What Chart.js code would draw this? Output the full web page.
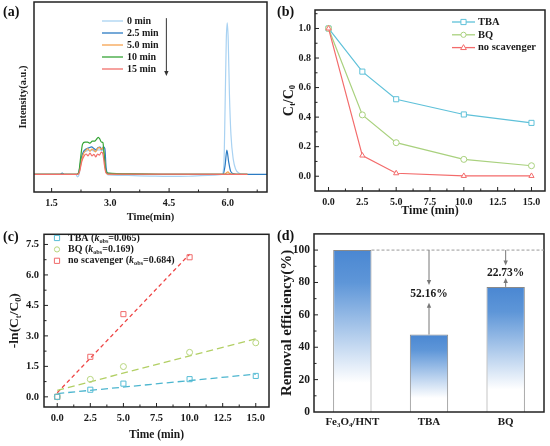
<!DOCTYPE html>
<html>
<head>
<meta charset="utf-8">
<script src="https://cdn.jsdelivr.net/npm/chart.js@4.4.1/dist/chart.umd.min.js"></script>
<style>
  body { margin: 0; background: #fff; overflow: hidden; }
  #wrap { position: relative; width: 550px; height: 446px; }
  canvas { position: absolute; }
  .lbl { position: absolute; font: bold 14px "Liberation Serif", "Times New Roman", serif; color: #111; }
</style>
</head>
<body>
<div id="wrap">
  <canvas id="chartA" width="275" height="223" style="left:0;top:0"></canvas>
  <canvas id="chartB" width="275" height="223" style="left:275px;top:0"></canvas>
  <canvas id="chartC" width="275" height="223" style="left:0;top:223px"></canvas>
  <canvas id="chartD" width="275" height="223" style="left:275px;top:223px"></canvas>
  <div class="lbl" style="left:3px;top:4px">(a)</div>
  <div class="lbl" style="left:277px;top:4px">(b)</div>
  <div class="lbl" style="left:3px;top:229px">(c)</div>
  <div class="lbl" style="left:277px;top:228px">(d)</div>
</div>
<script>
// (a) chromatograms, [time(min), intensity(a.u.)]
const ticksA = [1.5, 3.0, 4.5, 6.0];
const namesA = ['0 min', '2.5 min', '5.0 min', '10 min', '15 min'];
const trace0 = [[1.0,0.093],[1.72,0.093],[1.77,0.096],[1.82,0.093],[2.12,0.092],[2.16,0.08],[2.2,0.09],[2.25,0.16],[2.3,0.2],[2.38,0.215],[2.5,0.22],[2.6,0.215],[2.7,0.222],[2.8,0.22],[2.85,0.2],[2.89,0.11],[2.95,0.09],[3.2,0.088],[3.6,0.086],[4.0,0.084],[4.5,0.082],[5.0,0.083],[5.5,0.087],[5.85,0.092],[5.9,0.15],[5.93,0.45],[5.96,0.8],[5.985,0.89],[6.01,0.8],[6.04,0.52],[6.08,0.3],[6.14,0.17],[6.2,0.12],[6.28,0.1],[6.36,0.094],[6.5,0.093]];
const trace25 = [[1.0,0.093],[1.72,0.093],[1.77,0.1],[1.82,0.093],[2.15,0.093],[2.2,0.11],[2.26,0.18],[2.32,0.215],[2.38,0.226],[2.45,0.232],[2.52,0.237],[2.58,0.229],[2.63,0.222],[2.68,0.233],[2.74,0.236],[2.78,0.222],[2.82,0.237],[2.86,0.228],[2.89,0.13],[2.94,0.098],[3.5,0.094],[4.5,0.093],[5.5,0.093],[5.88,0.093],[5.93,0.14],[5.975,0.221],[6.02,0.16],[6.07,0.11],[6.15,0.096],[6.3,0.093],[7.0,0.093]];
const trace50 = [[1.0,0.093],[2.16,0.093],[2.21,0.11],[2.27,0.17],[2.32,0.205],[2.37,0.218],[2.42,0.228],[2.48,0.214],[2.53,0.226],[2.58,0.22],[2.62,0.211],[2.67,0.228],[2.72,0.235],[2.76,0.224],[2.8,0.232],[2.84,0.2],[2.88,0.11],[2.93,0.095],[4.0,0.093],[5.9,0.093],[5.96,0.1],[6.0,0.106],[6.05,0.097],[6.1,0.093],[6.5,0.093]];
const trace10 = [[1.0,0.093],[2.14,0.093],[2.19,0.1],[2.24,0.18],[2.29,0.252],[2.35,0.262],[2.42,0.262],[2.48,0.257],[2.54,0.268],[2.6,0.268],[2.64,0.276],[2.69,0.288],[2.73,0.279],[2.77,0.263],[2.81,0.26],[2.84,0.2],[2.88,0.12],[2.93,0.099],[3.5,0.095],[4.5,0.093],[6.5,0.093]];
const trace15 = [[1.0,0.093],[2.17,0.093],[2.21,0.105],[2.27,0.16],[2.33,0.19],[2.38,0.2],[2.43,0.19],[2.48,0.205],[2.53,0.19],[2.58,0.198],[2.63,0.185],[2.67,0.2],[2.72,0.194],[2.77,0.21],[2.81,0.2],[2.85,0.14],[2.89,0.1],[2.95,0.094],[6.5,0.093]];

// (b) C/C0 vs time
const timesB = [0, 2.5, 5, 10, 15];
const ticksBC = [0, 2.5, 5, 7.5, 10, 12.5, 15];
const ticksBy = [0, 0.2, 0.4, 0.6, 0.8, 1.0];
const tbaB = [1.0, 0.708, 0.521, 0.418, 0.361];
const bqB = [1.0, 0.415, 0.227, 0.114, 0.071];
const noneB = [1.0, 0.14, 0.02, 0.002, 0.002];

// (c) -ln(C/C0) and linear fits
const timesC = [0, 2.5, 5, 10, 15];
const timesCnone = [0, 2.5, 5, 10];
const ticksCy = [0, 1.5, 3.0, 4.5, 6.0, 7.5];
const tbaC = [0, 0.35, 0.65, 0.87, 1.03];
const bqC = [0, 0.86, 1.49, 2.19, 2.66];
const noneC = [0, 1.97, 4.07, 6.87];
const fitTbaC = [[0, 0.16], [15, 1.12]];
const fitBqC = [[0, 0.32], [15, 2.86]];
const fitNoneC = [[0, 0.2], [10, 7.02]];
const kobs = ['0.065', '0.169', '0.684'];

// (d) removal efficiency
const catsD = ['Fe₃O₄/HNT', 'TBA', 'BQ'];
const valuesD = [100, 47.84, 77.27];
const dropD = ['', '52.16%', '22.73%'];
const ticksDy = [0, 20, 40, 60, 80, 100];

const SERIF = '"Liberation Serif", "Times New Roman", serif';
const INK = '#1a1a1a';
Chart.defaults.font.family = SERIF;
Chart.defaults.font.weight = 'bold';
Chart.defaults.color = INK;

const SUBS = { '₀':'0','₁':'1','₂':'2','₃':'3','₄':'4','₅':'5','₆':'6','₇':'7','₈':'8','₉':'9','ₜ':'t' };
function parse(str) {
  const parts = [];
  for (const ch of str) {
    const sub = ch in SUBS;
    const t = sub ? SUBS[ch] : ch;
    const last = parts[parts.length - 1];
    if (last && !!last.sub === sub && !last.it) last.t += t;
    else parts.push({ t, sub });
  }
  return parts;
}
function fontOf(p, size) {
  return (p.it ? 'italic ' : '') + 'bold ' + (p.sub ? size * 0.62 : size) + 'px ' + SERIF;
}
function drawRich(c, parts, x, y, size, align) {
  let w = 0;
  parts.forEach(p => { c.font = fontOf(p, size); p.w = c.measureText(p.t).width; w += p.w; });
  let cx = align === 'left' ? x : x - w / 2;
  c.textAlign = 'left';
  c.textBaseline = 'middle';
  parts.forEach(p => {
    c.font = fontOf(p, size);
    c.fillText(p.t, cx, y + (p.sub ? size * 0.3 : 0));
    cx += p.w;
  });
}
function seg(c, x1, y1, x2, y2) {
  c.beginPath(); c.moveTo(x1, y1); c.lineTo(x2, y2); c.stroke();
}
function arrow(c, x, y1, y2, color) {
  const dir = y2 > y1 ? 1 : -1;
  c.strokeStyle = color; c.fillStyle = color; c.lineWidth = 1;
  seg(c, x, y1, x, y2 - dir * 3);
  c.beginPath(); c.moveTo(x, y2); c.lineTo(x - 2.2, y2 - dir * 5); c.lineTo(x + 2.2, y2 - dir * 5); c.closePath(); c.fill();
}
function marker(c, style, x, y, r, color) {
  c.strokeStyle = color; c.fillStyle = '#fff'; c.lineWidth = 1;
  c.beginPath();
  if (style === 'rect') c.rect(x - r, y - r, 2 * r, 2 * r);
  else if (style === 'circle') c.arc(x, y, r, 0, Math.PI * 2);
  else { c.moveTo(x, y - r * 1.15); c.lineTo(x + r * 1.1, y + r * 0.75); c.lineTo(x - r * 1.1, y + r * 0.75); c.closePath(); }
  c.fill(); c.stroke();
}
function inTicks(c, sc, a, horiz) {
  const vals = sc.ticks.map(t => t.value);
  if (vals.length < 2) return;
  const step = vals[1] - vals[0];
  const draw = (v, len) => {
    const p = sc.getPixelForValue(v);
    if (horiz) { if (p <= a.left + 1 || p >= a.right - 1) return; seg(c, p, a.bottom, p, a.bottom - len); }
    else { if (p <= a.top + 1 || p >= a.bottom - 1) return; seg(c, a.left, p, a.left + len, p); }
  };
  vals.forEach(v => draw(v, 4));
  for (let v = vals[0] - step / 2; v <= sc.max; v += step) if (v >= sc.min) draw(v, 2.5);
}

const decor = {
  id: 'decor',
  afterDraw(chart, args, o) {
    const c = chart.ctx, a = chart.chartArea;
    c.save();
    c.strokeStyle = '#222'; c.lineWidth = 1;
    if (o.xTicks) inTicks(c, chart.scales.x, a, true);
    if (o.yTicks) inTicks(c, chart.scales.y, a, false);
    c.lineWidth = 1.5;
    c.strokeRect(a.left, a.top, a.right - a.left, a.bottom - a.top);
    c.fillStyle = INK;
    if (o.xTitle) drawRich(c, o.xTitle.parts, (a.left + a.right) / 2, o.xTitle.y, o.xTitle.size, 'center');
    if (o.yTitle) {
      c.save();
      c.translate(o.yTitle.x, o.yTitle.cy || (a.top + a.bottom) / 2);
      c.rotate(-Math.PI / 2);
      drawRich(c, o.yTitle.parts, 0, 0, o.yTitle.size, 'center');
      c.restore();
    }
    if (o.legend) {
      const L = o.legend;
      L.items.forEach((it, i) => {
        const y = L.y + i * L.dy;
        c.strokeStyle = it.color; c.lineWidth = 1.3;
        if (L.lineLen) seg(c, L.x, y, L.x + L.lineLen, y);
        if (it.marker) marker(c, it.marker, L.x + (L.lineLen || 0) / 2, y, 2.6, it.color);
        c.fillStyle = INK;
        drawRich(c, it.parts, L.textX, y, L.size, 'left');
      });
    }
    if (o.extra) o.extra(chart, c);
    c.restore();
  }
};

function fixTicks(list) { return s => { s.ticks = list.map(v => ({ value: v })); }; }
const noGrid = { display: false, drawTicks: false };
const noBorder = { display: false };

// ---------- (a) ----------
const colorsA = ['#a9d2f2', '#2b7bc3', '#f6a24f', '#36a536', '#f2706b'];
const tracesA = [trace0, trace25, trace50, trace10, trace15];
new Chart(document.getElementById('chartA'), {
  type: 'line',
  data: {
    datasets: tracesA.map((tr, i) => ({
      label: namesA[i],
      data: tr.map(([x, y]) => ({ x, y })),
      borderColor: colorsA[i], borderWidth: 1.2, pointRadius: 0,
      cubicInterpolationMode: 'monotone', order: namesA.length - i
    }))
  },
  options: {
    responsive: false, animation: false,
    layout: { padding: { top: 2, right: 8, left: 0, bottom: 0 } },
    plugins: {
      legend: { display: false }, tooltip: { enabled: false },
      decor: {
        xTicks: true,
        xTitle: { parts: parse('Time(min)'), y: 217, size: 10.5 },
        yTitle: { parts: parse('Intensity(a.u.)'), x: 23, size: 10.5 },
        legend: { x: 102, y: 21, dy: 12, lineLen: 21, textX: 127, size: 10,
          items: namesA.map((n, i) => ({ color: colorsA[i], parts: parse(n) })) },
        extra(chart, c) {
          const sx = chart.scales.x, sy = chart.scales.y;
          arrow(c, sx.getPixelForValue(4.43), sy.getPixelForValue(0.915), sy.getPixelForValue(0.61), '#333');
        }
      }
    },
    scales: {
      x: { type: 'linear', min: 1.05, max: 7, afterBuildTicks: fixTicks(ticksA),
        ticks: { callback: v => v.toFixed(1), padding: 5, maxRotation: 0, font: { size: 10 } },
        grid: noGrid, border: noBorder, afterFit: s => { s.height = 31; } },
      y: { type: 'linear', min: 0, max: 1, ticks: { display: false },
        grid: noGrid, border: noBorder, afterFit: s => { s.width = 34; } }
    }
  },
  plugins: [decor]
});

// ---------- (b) ----------
const colorsB = ['#5fc1d9', '#a9d17e', '#f36b6b'];
const stylesB = ['rect', 'circle', 'triangle'];
const namesB = ['TBA', 'BQ', 'no scavenger'];
new Chart(document.getElementById('chartB'), {
  type: 'line',
  data: {
    datasets: [tbaB, bqB, noneB].map((vals, i) => ({
      label: namesB[i],
      data: timesB.map((t, j) => ({ x: t, y: vals[j] })),
      borderColor: colorsB[i], borderWidth: 1.2,
      pointStyle: stylesB[i], pointRadius: stylesB[i] === 'rect' ? 3.6 : 3, pointBorderWidth: 1,
      pointBackgroundColor: '#fff', pointBorderColor: colorsB[i], order: 3 - i
    }))
  },
  options: {
    responsive: false, animation: false,
    layout: { padding: { top: 2, right: 3, left: 0, bottom: 0 } },
    plugins: {
      legend: { display: false }, tooltip: { enabled: false },
      decor: {
        xTicks: true, yTicks: true,
        xTitle: { parts: parse('Time (min)'), y: 211, size: 12 },
        yTitle: { parts: parse('Cₜ/C₀'), x: 14, size: 14 },
        legend: { x: 177, y: 22, dy: 12.8, lineLen: 23, textX: 203, size: 10.5,
          items: namesB.map((n, i) => ({ color: colorsB[i], marker: stylesB[i], parts: parse(n) })) }
      }
    },
    scales: {
      x: { type: 'linear', min: -1, max: 16, afterBuildTicks: fixTicks(ticksBC),
        ticks: { callback: v => v.toFixed(1), padding: 5, maxRotation: 0, font: { size: 10 } },
        grid: noGrid, border: noBorder, afterFit: s => { s.height = 32; } },
      y: { type: 'linear', min: -0.1, max: 1.125, afterBuildTicks: fixTicks(ticksBy),
        ticks: { callback: v => v.toFixed(1), padding: 4, font: { size: 10 } },
        grid: noGrid, border: noBorder, afterFit: s => { s.width = 40; } }
    }
  },
  plugins: [decor]
});

// ---------- (c) ----------
const colorsC = ['#55bcd5', '#b7d57e', '#f06a6a'];
const lineColorsC = ['#4db6cf', '#b2cf64', '#ee4444'];
const stylesC = ['rect', 'circle', 'rect'];
const namesC = ['TBA', 'BQ', 'no scavenger'];
const ptsC = [[timesC, tbaC], [timesC, bqC], [timesCnone, noneC]];
const fitsC = [fitTbaC, fitBqC, fitNoneC];
const dashC = [[7, 4], [7, 4], [4, 3]];
new Chart(document.getElementById('chartC'), {
  type: 'line',
  data: {
    datasets: [
      ...fitsC.map((f, i) => ({
        data: f.map(([x, y]) => ({ x, y })), borderColor: lineColorsC[i], borderWidth: 1.3,
        borderDash: dashC[i], pointRadius: 0, order: 2
      })),
      ...ptsC.map(([ts, vs], i) => ({
        label: namesC[i], data: ts.map((t, j) => ({ x: t, y: vs[j] })), showLine: false,
        pointStyle: stylesC[i], pointRadius: stylesC[i] === 'rect' ? 3.6 : 3, pointBorderWidth: 1,
        pointBackgroundColor: 'rgba(255,255,255,0)', pointBorderColor: colorsC[i], order: 1
      }))
    ]
  },
  options: {
    responsive: false, animation: false,
    layout: { padding: { top: 3, right: 6, left: 0, bottom: 0 } },
    plugins: {
      legend: { display: false }, tooltip: { enabled: false },
      decor: {
        xTicks: true, yTicks: true,
        xTitle: { parts: parse('Time (min)'), y: 212, size: 11.5 },
        yTitle: { parts: parse('-ln(Cₜ/C₀)'), x: 15, size: 13.5 },
        legend: { x: 57, y: 15, dy: 11.4, lineLen: 0, textX: 68, size: 10,
          items: namesC.map((n, i) => ({ color: colorsC[i], marker: stylesC[i],
            parts: [...parse(n + ' ('), { t: 'k', it: true }, { t: 'obs', sub: true }, ...parse('=' + kobs[i] + ')')] })) }
      }
    },
    scales: {
      x: { type: 'linear', min: -1, max: 16, afterBuildTicks: fixTicks(ticksBC),
        ticks: { callback: v => v.toFixed(1), padding: 5, maxRotation: 0, font: { size: 10.5 } },
        grid: noGrid, border: noBorder, afterFit: s => { s.height = 39; } },
      y: { type: 'linear', min: -0.5, max: 8, afterBuildTicks: fixTicks(ticksCy),
        ticks: { callback: v => v.toFixed(1), padding: 5, font: { size: 10.5 } },
        grid: noGrid, border: noBorder, afterFit: s => { s.width = 44; } }
    }
  },
  plugins: [decor]
});

// ---------- (d) ----------
const annotD = [
  { i: 1, down: 78.5, text: 72.8, up: 67.5 },
  { i: 2, down: 90.5, text: 86, up: 82.8 }
];
new Chart(document.getElementById('chartD'), {
  type: 'bar',
  data: {
    labels: catsD,
    datasets: [{
      data: valuesD,
      backgroundColor: ctx => {
        const ch = ctx.chart;
        if (!ch.chartArea) return '#5b93d8';
        const sy = ch.scales.y;
        const top = sy.getPixelForValue(ctx.raw), bot = sy.getPixelForValue(0);
        const g = ch.ctx.createLinearGradient(0, top, 0, bot);
        g.addColorStop(0, '#4a87d2');
        g.addColorStop(0.2, '#5e96d8');
        g.addColorStop(0.82, '#ffffff');
        g.addColorStop(1, '#ffffff');
        return g;
      },
      borderColor: '#8a8a8a', borderWidth: 1,
      barPercentage: 0.5, categoryPercentage: 1
    }]
  },
  options: {
    responsive: false, animation: false,
    layout: { padding: { top: 4, right: 6, left: 0, bottom: 0 } },
    plugins: {
      legend: { display: false }, tooltip: { enabled: false },
      decor: {
        yTicks: true,
        yTitle: { parts: parse('Removal efficiency(%)'), x: 12, size: 15 },
        extra(chart, c) {
          const sx = chart.scales.x, sy = chart.scales.y, a = chart.chartArea;
          const bars = chart.getDatasetMeta(0).data;
          const yRef = sy.getPixelForValue(valuesD[0]);
          c.strokeStyle = '#9a9a9a'; c.lineWidth = 1; c.setLineDash([3, 2]);
          seg(c, bars[0].x + bars[0].width / 2, yRef, a.right, yRef);
          c.setLineDash([]);
          annotD.forEach(an => {
            const x = bars[an.i].x;
            arrow(c, x, yRef, sy.getPixelForValue(an.down), '#777');
            arrow(c, x, sy.getPixelForValue(valuesD[an.i]), sy.getPixelForValue(an.up), '#777');
            c.fillStyle = INK;
            drawRich(c, parse(dropD[an.i]), x, sy.getPixelForValue(an.text), 11.5, 'center');
          });
          // category labels with subscripts
          c.fillStyle = INK;
          catsD.forEach((lab, i) => drawRich(c, parse(lab), sx.getPixelForValue(i), a.bottom + 10, 11, 'center'));
        }
      }
    },
    scales: {
      x: { ticks: { display: false }, grid: noGrid, border: noBorder, afterFit: s => { s.height = 34; } },
      y: { type: 'linear', min: 0, max: 110, afterBuildTicks: fixTicks(ticksDy),
        ticks: { padding: 4, font: { size: 11.5 } },
        grid: noGrid, border: noBorder, afterFit: s => { s.width = 39; } }
    }
  },
  plugins: [decor]
});
</script>
</body>
</html>
